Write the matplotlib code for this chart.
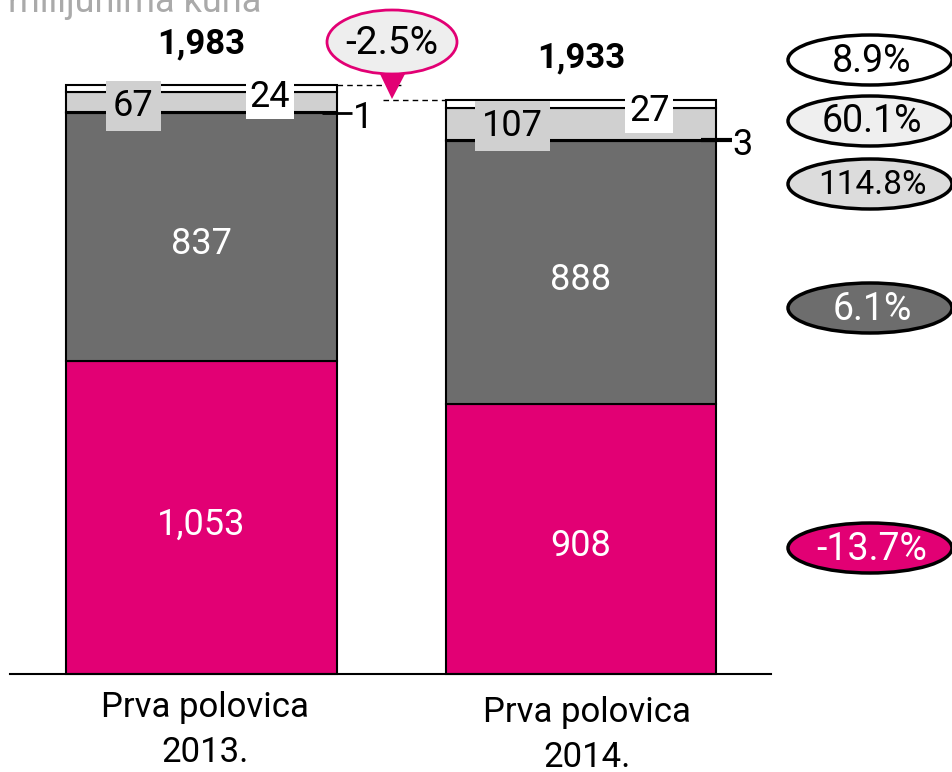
import matplotlib.pyplot as plt
from matplotlib.patches import Ellipse, Polygon

# --- data ---
periods = ["Prva polovica\n2013.", "Prva polovica\n2014."]
seg_magenta = [1053, 908]
seg_dark = [837, 888]
seg_black = [1, 3]
seg_light = [67, 107]
seg_white = [24, 27]
totals = [1983, 1933]
totals_lbl = ["1,983", "1,933"]
change_total = "-2.5%"
growth_lbl = ["8.9%", "60.1%", "114.8%", "6.1%", "-13.7%"]

MAGENTA = "#e20074"
DARK = "#6d6d6d"
LIGHT = "#d0d0d0"
plt.rcParams["font.family"] = ["Roboto", "DejaVu Sans"]

W, H = 953, 772
fig = plt.figure(figsize=(W / 100, H / 100), dpi=100)

# main axes: y value 0 sits at pixel 674, 0.297 px per unit
ax = fig.add_axes([0, 0, 1, 1])
base_px, scale = 674, 0.297
ax.set_ylim((base_px - H) / scale, base_px / scale)
ax.set_xlim(-201.5 / 379.5, (W - 201.5) / 379.5)
ax.axis("off")

x = [0, 1]
bw = 0.714
edge = dict(edgecolor="black", linewidth=1.5)
bottom = [0, 0]
for vals, col in [(seg_magenta, MAGENTA), (seg_dark, DARK), (seg_black, "black"),
                  (seg_light, LIGHT), (seg_white, "white")]:
    ax.bar(x, vals, bw, bottom=bottom, color=col, zorder=2, **edge)
    bottom = [b + v for b, v in zip(bottom, vals)]

ax.plot([-0.505, 1.50], [0, 0], color="black", lw=1.5, zorder=3, clip_on=False)

# in-bar labels
for i in range(2):
    ax.text(x[i], seg_magenta[i] / 2 - 24, f"{seg_magenta[i]:,}", ha="center", va="center",
            color="white", fontsize=26, zorder=4)
    ax.text(x[i], seg_magenta[i] + seg_dark[i] / 2 - 24, f"{seg_dark[i]:,}", ha="center",
            va="center", color="white", fontsize=26, zorder=4)
    ax.text(x[i], totals[i] + 140, totals_lbl[i], ha="center", va="center",
            fontsize=25, fontweight="bold", zorder=4)

# small segment labels with boxes
light_y = [1912, 1845]
white_y = [1942, 1895]
for i in range(2):
    ax.text(x[i] - 0.18, light_y[i], str(seg_light[i]), ha="center", va="center",
            fontsize=26, zorder=5,
            bbox=dict(boxstyle="square,pad=0.2", fc=LIGHT, ec="none"))
    ax.text(x[i] + 0.18, white_y[i], str(seg_white[i]), ha="center", va="center",
            fontsize=26, zorder=5,
            bbox=dict(boxstyle="square,pad=0.1", fc="white", ec="none"))
    ytick = seg_magenta[i] + seg_dark[i] + seg_black[i] / 2
    x0 = x[i] + bw / 2
    ax.plot([x0 - 0.04, x0 + 0.04], [ytick, ytick], color="black",
            lw=2 + i, zorder=4, solid_capstyle="butt")
    ax.text(x0 + 0.042, ytick - 18, str(seg_black[i]), ha="left", va="center",
            fontsize=26, zorder=4)

# dashed connectors to total callout
ax.plot([x[0] + bw / 2, 0.532], [totals[0]] * 2, color="black", ls=(0, (4, 3)), lw=1, zorder=4)
ax.plot([0.478, x[1] - bw / 2], [totals[1]] * 2, color="black", ls=(0, (4, 3)), lw=1, zorder=4)

# overlay axes in pixel coords for decorations
ov = fig.add_axes([0, 0, 1, 1])
ov.set_xlim(0, W)
ov.set_ylim(H, 0)
ov.axis("off")
ov.patch.set_alpha(0)

ov.add_patch(Polygon([[380, 74], [405, 74], [392, 99]], closed=True, fc=MAGENTA, ec="none", zorder=3))
ov.add_patch(Ellipse((392, 42), 130, 64, fc="#eeeeee", ec=MAGENTA, lw=2, zorder=4))
ov.text(392, 44, change_total, ha="center", va="center", fontsize=28, zorder=5)

ell_y = [60, 121, 184, 308, 548]
ell_fc = ["white", "#efefef", "#dcdcdc", DARK, MAGENTA]
ell_tc = ["black", "black", "black", "white", "white"]
ell_fs = [27, 27, 24, 27, 27]
for lbl, yy, fc, tc, fs in zip(growth_lbl, ell_y, ell_fc, ell_tc, ell_fs):
    ov.add_patch(Ellipse((870, yy), 164, 50, fc=fc, ec="black", lw=2.5, zorder=3))
    ov.text(872, yy + 1, lbl, ha="center", va="center", color=tc, fontsize=fs, zorder=4)

# category labels
for cx, ty, lbl in [(205, 730, periods[0]), (587, 735, periods[1])]:
    ov.text(cx, ty, lbl, ha="center", va="center", fontsize=25, linespacing=1.45)

ov.text(8, 12, "milijunima kuna", ha="left", va="baseline", color="#aaaaaa", fontsize=26)

fig.savefig("out.png", dpi=100)
